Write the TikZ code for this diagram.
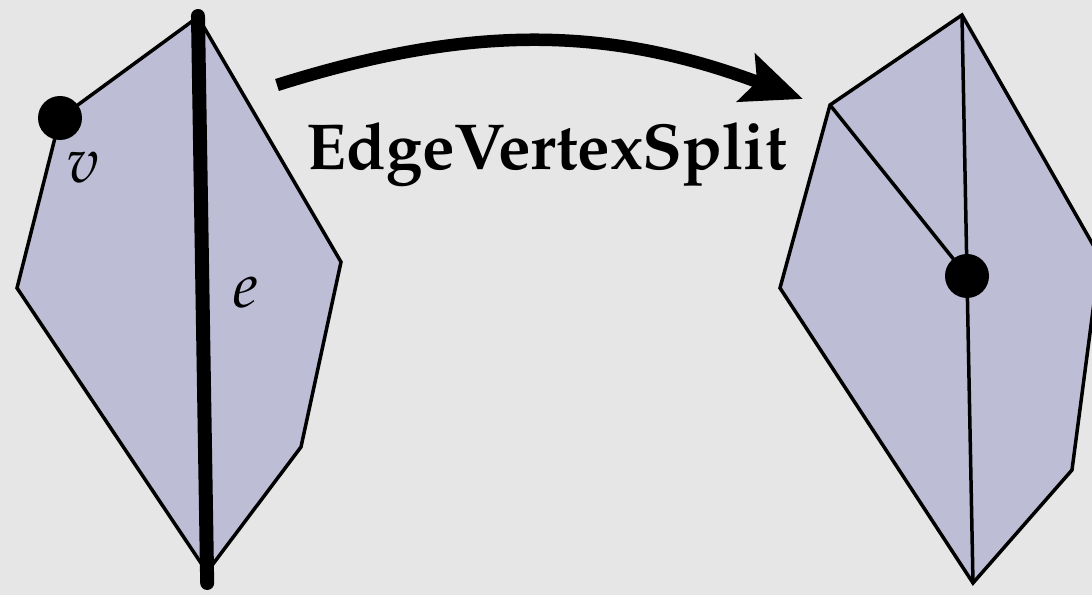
\documentclass[tikz,border=0pt]{standalone}
\usepackage[T1]{fontenc}
\usepackage{xcolor}
\usepackage{mathpazo}
\usepackage{tikz}
\usetikzlibrary{arrows.meta, calc}

\definecolor{bgGray}{RGB}{230,230,230}
\definecolor{faceLilac}{RGB}{189,189,213}

\tikzset{
    face/.style={fill=faceLilac, draw=black, line width=0.07cm, line join=miter},
    meshedge/.style={black, line width=0.07cm},
    splitedge/.style={black, line width=0.28cm, line cap=round},
    vdot/.style={circle, fill=black, inner sep=0pt, minimum size=0.88cm},
    lbl/.style={font=\fontsize{36}{42}\selectfont}
}

\begin{document}
\begin{tikzpicture}
        \fill[bgGray] (0,0) rectangle (21.84,11.9);
        \useasboundingbox (0,0) rectangle (21.84,11.9);
        % mesh before the split
        \coordinate (lTop) at (3.96,11.56);
        \coordinate (lV) at (1.20,9.54);
        \coordinate (lLeft) at (0.34,6.14);
        \coordinate (lBot) at (4.14,0.46);
        \coordinate (lLowR) at (6.02,2.96);
        \coordinate (lRight) at (6.82,6.66);
        \draw[face] (lTop) -- (lV) -- (lLeft) -- (lBot) -- (lLowR) -- (lRight) -- cycle;
        \draw[splitedge, shorten <=-0.02cm, shorten >=-0.22cm] (lTop) -- (lBot);
        \node[vdot] (v) at (lV) {};
        \node[lbl] (vLabel) at (1.66,8.54) {$v$};
        \node[lbl] (eLabel) at (4.92,6.04) {$e$};
        % mesh after the split
        \coordinate (rTop) at (19.24,11.60);
        \coordinate (rUpL) at (16.60,9.80);
        \coordinate (rLeft) at (15.60,6.14);
        \coordinate (rBot) at (19.46,0.24);
        \coordinate (rLowR) at (21.44,2.50);
        \coordinate (rRight) at (22.00,6.76);
        \coordinate (rMid) at (19.34,6.38);
        \draw[face] (rTop) -- (rUpL) -- (rLeft) -- (rBot) -- (rLowR) -- (rRight) -- cycle;
        \draw[meshedge] (rTop) -- (rMid) -- (rBot);
        \draw[meshedge] (rUpL) -- (rMid);
        \node[vdot] (w) at (rMid) {};
        % the operation
        \coordinate (arrStart) at (5.54,10.20);
        \coordinate (arrEnd) at (16.06,9.92);
        \draw[line width=0.25cm, -{Stealth[length=1.2cm, width=1.0cm, inset=0.22cm]}]
            (arrStart) to[bend left=19] (arrEnd);
        \node[anchor=base, font=\fontsize{37}{44}\selectfont\bfseries] (opName) at (10.94,8.5) {EdgeVertexSplit};
    \end{tikzpicture}
\end{document}
